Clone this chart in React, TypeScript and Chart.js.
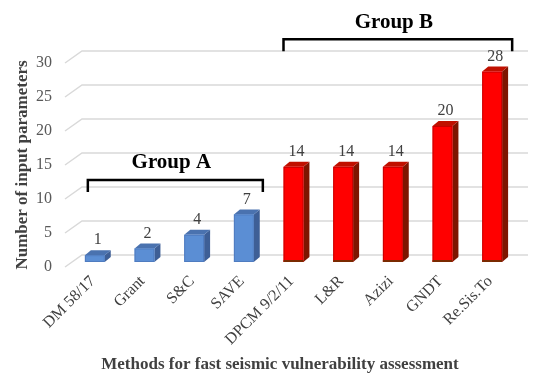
import React, { useEffect, useRef } from "react";
import { Chart, registerables } from "chart.js";

Chart.register(...registerables);

const categories = ["DM 58/17", "Grant", "S&C", "SAVE", "DPCM 9/2/11", "L&R", "Azizi", "GNDT", "Re.Sis.To"];
const groupAValues = [1, 2, 4, 7];
const groupBValues = [14, 14, 14, 20, 28];
const groupNames = ["Group A", "Group B"];
const yTickValues = [0, 5, 10, 15, 20, 25, 30];

const values = [...groupAValues, ...groupBValues];
const groupOf = values.map((_, i) => (i < groupAValues.length ? 0 : 1));

const SERIF = "'Liberation Serif', 'Times New Roman', serif";

const PALETTE = [
  { front: "#5B8ED4", side: "#3E5F96", top: "#4A72AF", edge: "#4F7CC0" },
  { front: "#FF0000", side: "#7E1500", top: "#C01000", edge: "#C80000" },
];

const DX = 2, DY = -5, DDX = 6, DDY = -5;

const gridPlugin = {
  id: "grid3d",
  beforeDatasetsDraw(chart: any) {
    const { ctx, chartArea, scales } = chart;
    const ys = scales.y;
    ctx.save();
    ctx.strokeStyle = "#d9d9d9";
    ctx.lineWidth = 1.5;
    yTickValues.forEach((v) => {
      const y = ys.getPixelForValue(v);
      ctx.beginPath();
      ctx.moveTo(chartArea.left - 3, y);
      ctx.lineTo(chartArea.left + 14, y - 12);
      ctx.lineTo(chartArea.right + 13, y - 12);
      ctx.stroke();
    });
    ctx.restore();
  },
};

const barsPlugin = {
  id: "bars3d",
  afterDatasetsDraw(chart: any) {
    const { ctx, scales } = chart;
    const meta = chart.getDatasetMeta(0);
    ctx.save();
    meta.data.forEach((el: any, i: number) => {
      const { x, y, base, width } = el.getProps(["x", "y", "base", "width"], true);
      const c = PALETTE[groupOf[i]];
      const fx0 = x - width / 2 + DX;
      const fx1 = x + width / 2 + DX;
      const fy0 = y + DY;
      const fy1 = base + DY;
      ctx.fillStyle = c.side;
      ctx.beginPath();
      ctx.moveTo(fx1, fy0);
      ctx.lineTo(fx1 + DDX, fy0 + DDY);
      ctx.lineTo(fx1 + DDX, fy1 + DDY);
      ctx.lineTo(fx1, fy1);
      ctx.closePath();
      ctx.fill();
      ctx.fillStyle = c.top;
      ctx.beginPath();
      ctx.moveTo(fx0, fy0);
      ctx.lineTo(fx0 + DDX, fy0 + DDY);
      ctx.lineTo(fx1 + DDX, fy0 + DDY);
      ctx.lineTo(fx1, fy0);
      ctx.closePath();
      ctx.fill();
      ctx.fillStyle = c.front;
      ctx.fillRect(fx0, fy0, fx1 - fx0, fy1 - fy0);
      ctx.strokeStyle = c.edge;
      ctx.lineWidth = 1;
      ctx.strokeRect(fx0 + 0.5, fy0 + 0.5, fx1 - fx0 - 1, fy1 - fy0 - 1);
      if (groupOf[i] === 1) {
        ctx.fillStyle = "#7A2A00";
        ctx.fillRect(fx0, fy1 - 2, fx1 - fx0, 2);
      }
      ctx.fillStyle = "#404040";
      ctx.font = `16px ${SERIF}`;
      ctx.textAlign = "center";
      ctx.textBaseline = "middle";
      ctx.fillText(String(values[i]), (fx0 + fx1) / 2 + 3, fy0 - 15);
    });

    const xs = scales.x;
    const ys = scales.y;
    const brackets = [
      { from: 0, to: groupAValues.length - 1, level: 12.8, l: -5, r: 21 },
      { from: groupAValues.length, to: values.length - 1, level: 33.5, l: -8, r: 22 },
    ];
    brackets.forEach((b, gi) => {
      const x0 = xs.getPixelForValue(b.from) + b.l;
      const x1 = xs.getPixelForValue(b.to) + b.r;
      const yy = ys.getPixelForValue(b.level);
      ctx.strokeStyle = "#000";
      ctx.lineWidth = 2.5;
      ctx.beginPath();
      ctx.moveTo(x0, yy + 12);
      ctx.lineTo(x0, yy);
      ctx.lineTo(x1, yy);
      ctx.lineTo(x1, yy + 12);
      ctx.stroke();
      ctx.fillStyle = "#000";
      ctx.font = `bold 21px ${SERIF}`;
      ctx.textAlign = "center";
      ctx.textBaseline = "middle";
      ctx.fillText(groupNames[gi], (x0 + x1) / 2 - 4, yy - 17);
    });

    ctx.fillStyle = "#404040";
    ctx.font = `bold 17px ${SERIF}`;
    ctx.textAlign = "center";
    ctx.textBaseline = "middle";
    ctx.fillText("Methods for fast seismic vulnerability assessment", 272, 357);
    ctx.restore();
  },
};

export default function App() {
  const ref = useRef<HTMLCanvasElement | null>(null);
  useEffect(() => {
    if (!ref.current) return;
    const chart = new Chart(ref.current, {
      type: "bar",
      data: {
        labels: categories,
        datasets: [
          {
            data: values,
            backgroundColor: "rgba(0,0,0,0)",
            borderWidth: 0,
            barPercentage: 0.4,
            categoryPercentage: 1,
          },
        ],
      },
      options: {
        responsive: false,
        animation: false,
        devicePixelRatio: 1,
        layout: { padding: { top: 55, right: 27, left: 0, bottom: 0 } },
        plugins: { legend: { display: false }, tooltip: { enabled: false } },
        scales: {
          x: {
            grid: { display: false, drawTicks: false },
            border: { display: false },
            ticks: {
              minRotation: 45,
              maxRotation: 45,
              padding: 5,
              color: "#404040",
              font: { family: SERIF, size: 16 },
            },
            afterFit: (s: any) => {
              s.height = 111;
            },
          },
          y: {
            min: 0,
            max: 30,
            grid: { display: false, drawTicks: false },
            border: { display: false },
            ticks: {
              stepSize: 5,
              padding: 16,
              color: "#595959",
              font: { family: SERIF, size: 16 },
            },
            title: {
              display: true,
              text: "Number of input parameters",
              color: "#404040",
              font: { family: SERIF, size: 17, weight: "bold" },
              padding: { top: 4, bottom: 0 },
            },
            afterFit: (s: any) => {
              s.width = 60;
            },
          },
        },
      },
      plugins: [gridPlugin, barsPlugin],
    });
    return () => chart.destroy();
  }, []);
  return <canvas ref={ref} width={534} height={370} style={{ display: "block" }} />;
}
